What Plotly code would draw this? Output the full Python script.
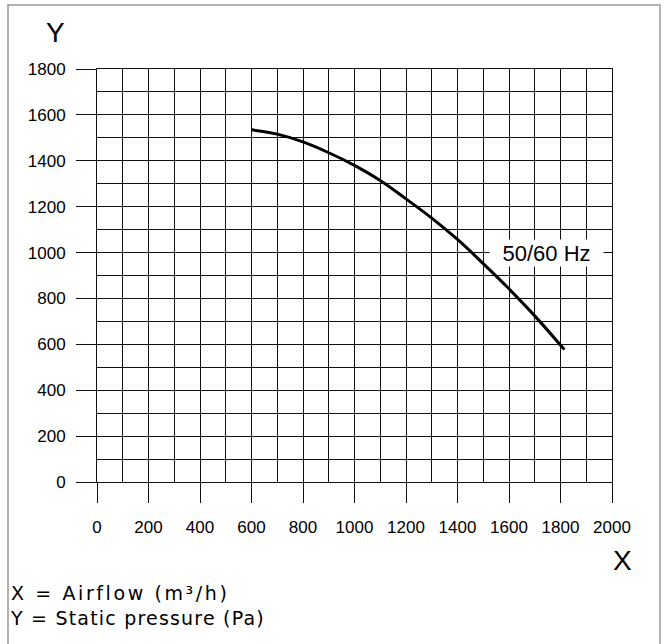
import plotly.graph_objects as go

# Data
airflow = [600, 700, 800, 900, 1000, 1100, 1200, 1300, 1400, 1500, 1600, 1700, 1815]
pressure = [1535, 1516, 1482, 1435, 1380, 1314, 1234, 1150, 1057, 952, 842, 724, 577]
curve_label = "50/60 Hz"
x_ticks = list(range(0, 2001, 200))
y_ticks = list(range(0, 1801, 200))

W, H = 666, 644
L, R, T, B = 97, 54, 69, 162
pw, ph = W - L - R, H - T - B


def px_x(px):
    return (px - L) / pw


def px_y(py):
    return (H - B - py) / ph


fig = go.Figure()
fig.add_trace(go.Scatter(x=airflow, y=pressure, mode="lines",
                         line=dict(color="black", width=3, shape="spline", smoothing=1.0),
                         hoverinfo="skip", showlegend=False))

tickfont = dict(family="Liberation Sans, Arial, sans-serif", size=17, color="black")
common = dict(ticks="outside", ticklen=20, tickcolor="#111", tickwidth=1.3,
              showgrid=True, gridcolor="#111", gridwidth=1,
              showline=True, mirror=True, linecolor="#111", linewidth=1,
              zeroline=False, tickfont=tickfont, tickmode="array")
fig.update_xaxes(range=[0, 2000], tickvals=x_ticks, ticktext=[str(v) for v in x_ticks],
                 ticklabelstandoff=10,
                 minor=dict(dtick=100, tick0=0, showgrid=True, gridcolor="#111",
                            gridwidth=1, ticks=""), **common)
fig.update_yaxes(range=[0, 1800], tickvals=y_ticks, ticktext=[str(v) for v in y_ticks],
                 ticklabelstandoff=7,
                 minor=dict(dtick=100, tick0=0, showgrid=True, gridcolor="#111",
                            gridwidth=1, ticks=""), **common)

fig.add_annotation(x=1744, y=1000, xref="x", yref="y", text=curve_label,
                   showarrow=False, bgcolor="white", borderpad=0, width=113, height=26,
                   font=dict(family="Liberation Sans, Arial, sans-serif", size=22, color="black"))

fig.add_annotation(x=px_x(55), y=px_y(33), xref="paper", yref="paper", text="Y",
                   showarrow=False, xanchor="center", yanchor="middle",
                   font=dict(family="Liberation Sans, Arial, sans-serif", size=28, color="black"))
fig.add_annotation(x=px_x(622), y=px_y(560), xref="paper", yref="paper", text="X",
                   showarrow=False, xanchor="center", yanchor="middle",
                   font=dict(family="Liberation Sans, Arial, sans-serif", size=28, color="black"))

legend_font = dict(family="DejaVu Sans, Verdana, sans-serif", size=19, color="black")
fig.add_annotation(x=px_x(9), y=px_y(605.5), xref="paper", yref="paper",
                   text="X = Airflow (m³/h)<br>Y = Static pressure (Pa)",
                   showarrow=False, xanchor="left", yanchor="middle", align="left",
                   borderpad=0, font=legend_font)

fig.add_shape(type="rect", xref="paper", yref="paper",
              x0=px_x(8), x1=px_x(660), y0=px_y(660), y1=px_y(5),
              line=dict(color="#999", width=1.5), fillcolor="rgba(0,0,0,0)", layer="below")

fig.update_layout(width=W, height=H, margin=dict(l=L, r=R, t=T, b=B),
                  plot_bgcolor="white", paper_bgcolor="white")

post = """
document.body.style.margin = '0';
document.body.style.overflow = 'hidden';
var gd = document.getElementById('{plot_id}');
function track() {
  gd.querySelectorAll('.annotation-text').forEach(function (t) {
    if (/Airflow/.test(t.textContent)) {
      var lines = t.querySelectorAll('tspan.line');
      if (lines.length >= 2) {
        lines[0].style.letterSpacing = '2.6px';
        lines[1].style.letterSpacing = '1.2px';
      }
    }
  });
}
track();
setTimeout(track, 50);
"""

fig.write_html("out.html", post_script=post, config={"displayModeBar": False})
